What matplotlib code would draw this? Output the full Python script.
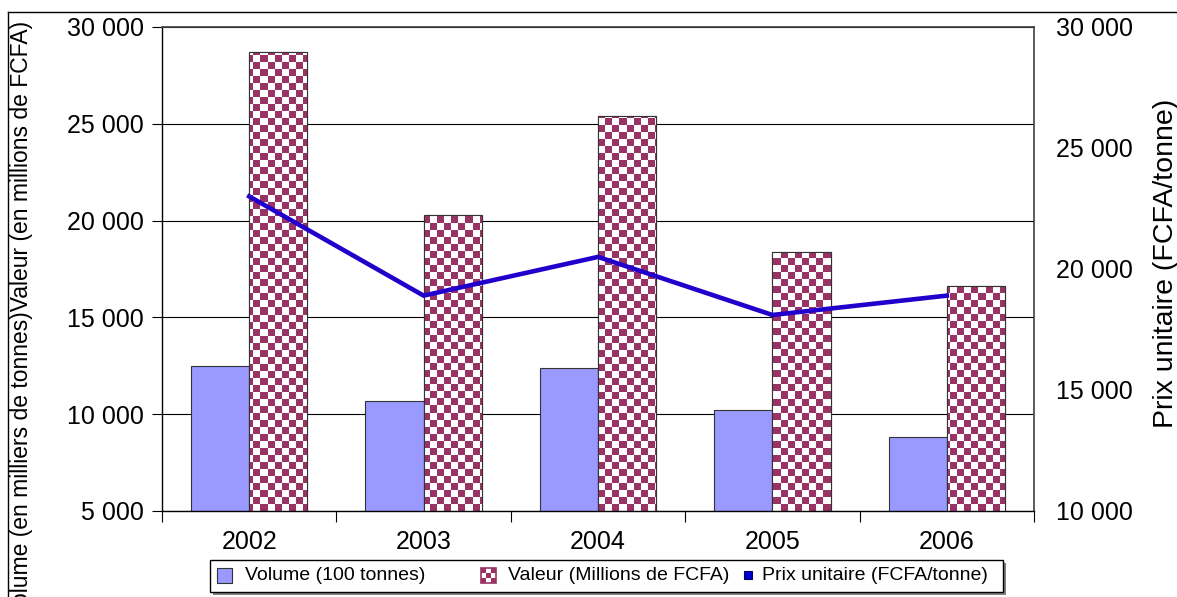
import numpy as np
import matplotlib
matplotlib.use('Agg')
import matplotlib.pyplot as plt
from matplotlib.patches import Rectangle
from matplotlib.lines import Line2D
from matplotlib.ticker import FuncFormatter

plt.rcParams['font.family'] = ['Liberation Sans', 'DejaVu Sans']

# ---- data ----
years = ['2002', '2003', '2004', '2005', '2006']
volume = [12500, 10700, 12400, 10200, 8800]      # Volume (100 tonnes)
valeur = [28700, 20300, 25400, 18400, 16600]     # Valeur (Millions de FCFA)
prix = [23000, 18900, 20500, 18100, 18900]       # Prix unitaire (FCFA/tonne)
left_ticks = [5000, 10000, 15000, 20000, 25000, 30000]
right_ticks = [10000, 15000, 20000, 25000, 30000]
legend_labels = ['Volume (100 tonnes)', 'Valeur (Millions de FCFA)', 'Prix unitaire (FCFA/tonne)']

VOL_C = '#9999FF'
MAROON = '#993366'
LINE_C = '#2200CC'
EDGE = '#333333'

W, H = 1177, 597
fig = plt.figure(figsize=(W / 100, H / 100), dpi=100)


def fx(px):
    return px / W


def fy(py):
    return 1 - py / H


ax = fig.add_axes([fx(162), fy(511), (1034 - 162) / W, (511 - 27) / H])
x = np.arange(len(years))
bw = 1 / 3

ax.bar(x - bw / 2, volume, bw, color=VOL_C, edgecolor=EDGE, lw=0.8, zorder=2)
bars_val = ax.bar(x + bw / 2, valeur, bw, color='white', edgecolor=EDGE, lw=0.8, zorder=2)

# checkerboard fill for the "Valeur" bars
rows, cols = 69, 124
chk = np.add.outer(np.arange(rows), np.arange(cols)) % 2
maroon_rgb = np.array(matplotlib.colors.to_rgb(MAROON))
white_rgb = np.array([1.0, 1.0, 1.0])
img = np.where(chk[..., None] == 0, maroon_rgb, white_rgb)
for b in bars_val:
    im = ax.imshow(img, extent=(0, 1, 0, 1), transform=ax.transAxes, aspect='auto',
                   interpolation='nearest', zorder=2.1)
    im.set_clip_path(b)
ax.bar(x + bw / 2, valeur, bw, facecolor='none', edgecolor=EDGE, lw=0.8, zorder=2.2)

ax.set_xlim(-0.5, len(years) - 0.5)
ax.set_ylim(5000, 30000)
ax.set_yticks(left_ticks)
fmt = FuncFormatter(lambda v, p: f"{int(v):,}".replace(',', ' '))
ax.yaxis.set_major_formatter(fmt)
ax.yaxis.grid(True, color='black', lw=0.8)
ax.set_axisbelow(True)

ax.set_xticks(np.arange(-0.5, len(years), 1))
ax.set_xticklabels([])
ax.set_xticks(x, minor=True)
ax.set_xticklabels(years, minor=True)
ax.tick_params(axis='x', which='minor', length=0, pad=14, labelsize=18)
ax.tick_params(axis='x', which='major', length=8, width=0.8, direction='out', color='black')
ax.tick_params(axis='y', length=7, width=0.8, pad=6, labelsize=18)

for s in ['left', 'bottom']:
    ax.spines[s].set_color('black')
    ax.spines[s].set_linewidth(1.0)
for s in ['top', 'right']:
    ax.spines[s].set_color('#404040')
    ax.spines[s].set_linewidth(1.2)

ax2 = ax.twinx()
ax2.set_ylim(10000, 30000)
ax2.set_yticks(right_ticks)
ax2.yaxis.set_major_formatter(fmt)
ax2.plot(x, prix, color=LINE_C, lw=3.3, zorder=5)
ax2.tick_params(axis='y', length=0, pad=16, labelsize=18)
for s in ax2.spines.values():
    s.set_visible(False)

# axis titles
fig.text(fx(22), fy(320), 'Volume (en milliers de tonnes)Valeur (en millions de FCFA)',
         rotation=90, ha='center', va='center', fontsize=16.5)
fig.text(fx(1166), fy(263), 'Prix unitaire (FCFA/tonne)',
         rotation=90, ha='center', va='center', fontsize=20.5)

# outer chart frame
fig.add_artist(Line2D([fx(8), 1], [fy(12), fy(12)], color='black', lw=1, transform=fig.transFigure))
fig.add_artist(Line2D([fx(8), fx(8)], [fy(12), 0], color='black', lw=1, transform=fig.transFigure))

# legend (drawn manually, Excel-style equal columns)
tf = fig.transFigure
fig.add_artist(Rectangle((fx(213), fy(595)), (1003 - 210) / W, (592 - 560) / H,
                         facecolor='#808080', edgecolor='none', transform=tf, zorder=1))
fig.add_artist(Rectangle((fx(210), fy(592)), (1003 - 210) / W, (592 - 560) / H,
                         facecolor='white', edgecolor='black', lw=1, transform=tf, zorder=2))
ly = 575
s = 15
fig.add_artist(Rectangle((fx(217), fy(ly + s / 2)), s / W, s / H, facecolor=VOL_C,
                         edgecolor=EDGE, lw=0.8, transform=tf, zorder=3))
fig.text(fx(245), fy(ly), legend_labels[0], ha='left', va='center', fontsize=14, zorder=3)

cx0 = 481
c = s / 3
for i in range(3):
    for j in range(3):
        col = MAROON if (i + j) % 2 == 0 else 'white'
        fig.add_artist(Rectangle((fx(cx0 + j * c), fy(ly - s / 2 + (i + 1) * c)), c / W, c / H,
                                 facecolor=col, edgecolor='none', transform=tf, zorder=3))
fig.add_artist(Rectangle((fx(cx0), fy(ly + s / 2)), s / W, s / H, facecolor='none',
                         edgecolor=MAROON, lw=1.2, transform=tf, zorder=3.1))
fig.text(fx(508), fy(ly), legend_labels[1], ha='left', va='center', fontsize=14, zorder=3)

m = 8
fig.add_artist(Rectangle((fx(748 - m / 2), fy(ly + m / 2)), m / W, m / H, facecolor='#0000CC',
                         edgecolor='#000066', lw=0.8, transform=tf, zorder=3))
fig.text(fx(762), fy(ly), legend_labels[2], ha='left', va='center', fontsize=14, zorder=3)

fig.savefig('out.png', dpi=100)
